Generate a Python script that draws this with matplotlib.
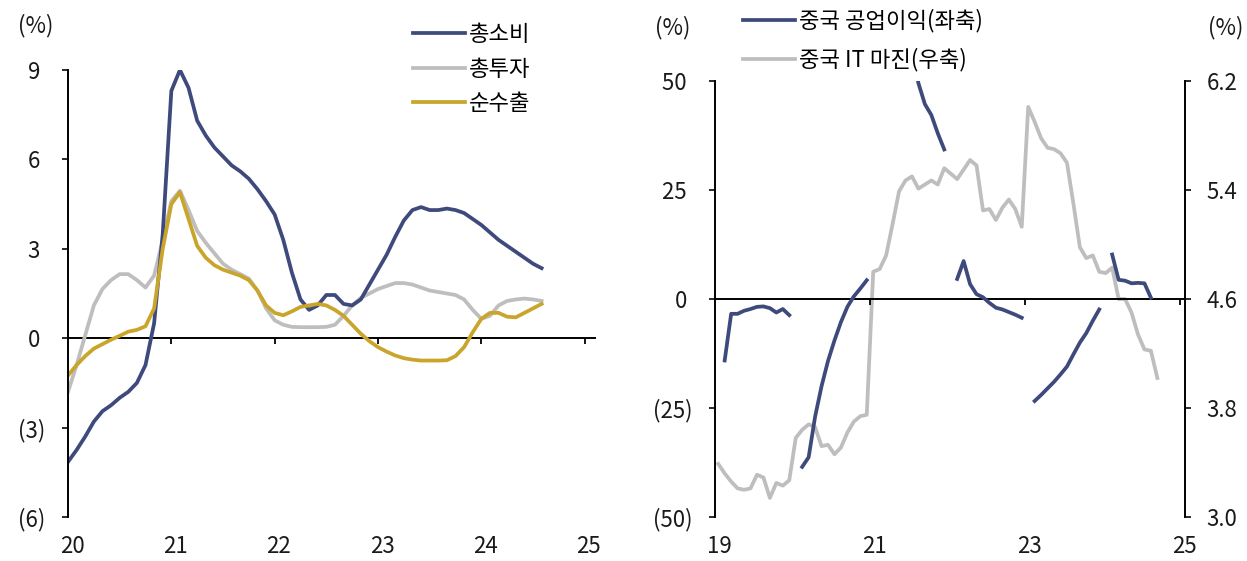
import numpy as np
import matplotlib.pyplot as plt
from matplotlib.ticker import FuncFormatter
from matplotlib.transforms import ScaledTranslation

plt.rcParams['font.family'] = ['Noto Sans CJK KR', 'DejaVu Sans']
plt.rcParams['axes.unicode_minus'] = False

NAVY = '#3F4A7C'
GREY = '#BEBEBE'
GOLD = '#C9A52C'
nan = np.nan

# ---- 좌측: 지출항목별 성장 기여 (월 단위, 2020.01~2024.08)
t_left = 2020 + np.arange(56) / 12
cons = [-4.15, -3.75, -3.3, -2.8, -2.45, -2.25, -2.0, -1.8, -1.5, -0.9, 0.5, 3.5,
        8.3, 9.0, 8.4, 7.3, 6.8, 6.4, 6.1, 5.8, 5.6, 5.35, 5.0, 4.6,
        4.15, 3.3, 2.2, 1.3, 0.95, 1.1, 1.45, 1.45, 1.15, 1.1, 1.3, 1.8,
        2.3, 2.8, 3.4, 3.95, 4.3, 4.4, 4.3, 4.3, 4.35, 4.3, 4.2, 4.0,
        3.8, 3.55, 3.3, 3.1, 2.9, 2.7, 2.5, 2.35]
inv = [-1.8, -0.9, 0.1, 1.1, 1.65, 1.95, 2.15, 2.15, 1.95, 1.7, 2.1, 3.3,
       4.6, 4.95, 4.3, 3.6, 3.2, 2.85, 2.5, 2.3, 2.15, 2.0, 1.6, 1.0,
       0.6, 0.45, 0.38, 0.37, 0.37, 0.37, 0.38, 0.45, 0.75, 1.1, 1.35, 1.5,
       1.65, 1.75, 1.85, 1.85, 1.8, 1.7, 1.6, 1.55, 1.5, 1.45, 1.3, 0.95,
       0.65, 0.75, 1.1, 1.25, 1.3, 1.33, 1.3, 1.25]
netx = [-1.25, -0.9, -0.6, -0.35, -0.2, -0.05, 0.08, 0.22, 0.28, 0.4, 1.0, 3.0,
        4.5, 4.9, 4.0, 3.1, 2.7, 2.45, 2.3, 2.2, 2.1, 1.95, 1.6, 1.1,
        0.85, 0.77, 0.9, 1.05, 1.1, 1.15, 1.1, 0.95, 0.75, 0.45, 0.15, -0.1,
        -0.3, -0.45, -0.58, -0.67, -0.72, -0.75, -0.75, -0.75, -0.74, -0.6, -0.3, 0.2,
        0.65, 0.85, 0.85, 0.72, 0.7, 0.85, 1.0, 1.15]

# ---- 우측: 중국 공업이익 누적 YoY(좌축), IT 마진(우축), 월 단위
profit_2019 = [nan, -14.1, -3.4, -3.4, -2.7, -2.3, -1.8, -1.7, -2.1, -3.1, -2.3, -3.7]
profit_2020 = [nan, -38.5, -36.3, -27.0, -20.0, -14.2, -9.5, -5.3, -1.8, 0.6, 2.4, 4.3]
profit_2021 = [nan, 178.9, 137.3, 106.0, 83.4, 66.9, 57.3, 49.5, 44.7, 42.2, 38.0, 34.3]
profit_2022 = [nan, 4.6, 8.7, 3.4, 1.1, 0.4, -0.9, -2.0, -2.4, -3.0, -3.6, -4.3]
profit_2023 = [nan, -23.4, -22.0, -20.5, -19.0, -17.3, -15.5, -12.7, -10.0, -7.8, -5.0, -2.4]
profit_2024 = [nan, 10.2, 4.4, 4.2, 3.6, 3.7, 3.6, 0.3]
profit = profit_2019 + profit_2020 + profit_2021 + profit_2022 + profit_2023 + profit_2024

it_margin = [3.39, 3.32, 3.26, 3.21, 3.20, 3.21, 3.31, 3.29, 3.14, 3.25, 3.23, 3.27,
             3.58, 3.64, 3.68, 3.66, 3.52, 3.53, 3.46, 3.51, 3.62, 3.70, 3.74, 3.75,
             4.80, 4.82, 4.92, 5.15, 5.39, 5.47, 5.50, 5.41, 5.44, 5.47, 5.44, 5.56,
             5.52, 5.48, 5.55, 5.62, 5.58, 5.25, 5.26, 5.18, 5.27, 5.33, 5.26, 5.13,
             6.01, 5.90, 5.78, 5.71, 5.70, 5.67, 5.60, 5.30, 4.98, 4.90, 4.92, 4.80,
             4.79, 4.83, 4.60, 4.60, 4.50, 4.34, 4.23, 4.22, 4.02]
t_profit = 2019 + (np.arange(len(profit)) + 0.5) / 12
t_it = 2019 + (np.arange(len(it_margin)) + 0.5) / 12


def paren(v, pos):
    if v < 0:
        return f"({abs(v):g})"
    return f"{v:g} "


W, H = 1247, 561
fig = plt.figure(figsize=(W / 100, H / 100), dpi=100)
FS = 16
TXT = '#1a1a1a'

# ---------- 좌측 패널
ax1 = fig.add_axes([68 / W, 44 / H, 527 / W, 447 / H])
ax1.plot(t_left, inv, color=GREY, lw=2.7, label='총투자')
ax1.plot(t_left, cons, color=NAVY, lw=2.7, label='총소비')
ax1.plot(t_left, netx, color=GOLD, lw=2.7, label='순수출')
ax1.set_xlim(2020, 2025.1)
ax1.set_ylim(-6, 9)
ax1.set_yticks(np.arange(-6, 10, 3))
ax1.yaxis.set_major_formatter(FuncFormatter(paren))
ax1.set_xticks(range(2020, 2026))
ax1.set_xticklabels([str(y - 2000) for y in range(2020, 2026)])
ax1.tick_params(axis='x', length=0, pad=13, labelsize=FS, colors=TXT)
ax1.tick_params(axis='y', direction='out', length=4.5, width=1.3, pad=12,
                labelsize=FS, colors=TXT)
for s in ['top', 'right', 'bottom']:
    ax1.spines[s].set_visible(False)
ax1.spines['left'].set_linewidth(1.4)

zero1 = ax1.secondary_xaxis(6 / 15)
zero1.set_xticks(range(2021, 2026))
zero1.tick_params(length=4.5, width=1.3, labelbottom=False, labeltop=False)
zero1.spines['bottom'].set_linewidth(1.4)

h, l = ax1.get_legend_handles_labels()
order = [1, 0, 2]
ax1.legend([h[i] for i in order], [l[i] for i in order], loc='upper left',
           bbox_to_anchor=(413 / W, 1 - 23 / H), bbox_transform=fig.transFigure,
           frameon=False, fontsize=FS, handlelength=2.35, handletextpad=0.15,
           labelspacing=0.52, borderpad=0, borderaxespad=0)
fig.text(36 / W, 1 - 26 / H, '(%)', ha='center', va='center', fontsize=FS, color=TXT)

# ---------- 우측 패널
ax2 = fig.add_axes([715 / W, 44 / H, 470 / W, 436 / H])
ax3 = ax2.twinx()
ln_it, = ax3.plot(t_it, it_margin, color=GREY, lw=2.7, label='중국 IT 마진(우축)')
ln_pf, = ax2.plot(t_profit, profit, color=NAVY, lw=2.7, label='중국 공업이익(좌축)')
ax2.set_zorder(ax3.get_zorder() + 1)
ax2.patch.set_visible(False)

ax2.set_xlim(2019, 2025.065)
ax2.set_ylim(-50, 50)
ax3.set_ylim(3.0, 6.2)
ax2.set_yticks(np.arange(-50, 51, 25))
ax2.yaxis.set_major_formatter(FuncFormatter(paren))
ax3.set_yticks([3.0, 3.8, 4.6, 5.4, 6.2])
ax3.yaxis.set_major_formatter(FuncFormatter(lambda v, p: f"{v:.1f}"))
ax2.set_xticks([2019, 2021, 2023, 2025])
ax2.set_xticklabels(['19', '21', '23', '25'])
ax2.tick_params(axis='x', length=0, pad=13, labelsize=FS, colors=TXT)
ax2.tick_params(axis='y', direction='out', length=4.5, width=1.3, pad=12,
                labelsize=FS, colors=TXT)
ax3.tick_params(axis='y', direction='out', length=4.5, width=1.3, pad=11,
                labelsize=FS, colors=TXT)
for s in ['top', 'right', 'bottom']:
    ax2.spines[s].set_visible(False)
for s in ['top', 'left', 'bottom']:
    ax3.spines[s].set_visible(False)
ax2.spines['left'].set_linewidth(1.4)
ax3.spines['right'].set_linewidth(1.4)

zero2 = ax2.secondary_xaxis(0.5)
zero2.set_alignment('bottom')
zero2.set_xticks([2021, 2023, 2025])
zero2.tick_params(length=4.5, width=1.3, labelbottom=False, labeltop=False)
zero2.spines['bottom'].set_linewidth(1.4)

ax2.legend([ln_pf, ln_it], [ln_pf.get_label(), ln_it.get_label()], loc='upper left',
           bbox_to_anchor=(743 / W, 1 - 9 / H), bbox_transform=fig.transFigure,
           frameon=False, fontsize=FS, handlelength=2.35, handletextpad=0.15,
           labelspacing=0.7, borderpad=0, borderaxespad=0)
fig.text(673 / W, 1 - 28 / H, '(%)', ha='center', va='center', fontsize=FS, color=TXT)
fig.text(1226 / W, 1 - 28 / H, '(%)', ha='center', va='center', fontsize=FS, color=TXT)

# x 라벨을 눈금 오른쪽으로 약간 이동
for lab in ax1.get_xticklabels() + ax2.get_xticklabels():
    lab.set_transform(lab.get_transform() + ScaledTranslation(0.04, 0, fig.dpi_scale_trans))

fig.savefig('out.png', dpi=100)
